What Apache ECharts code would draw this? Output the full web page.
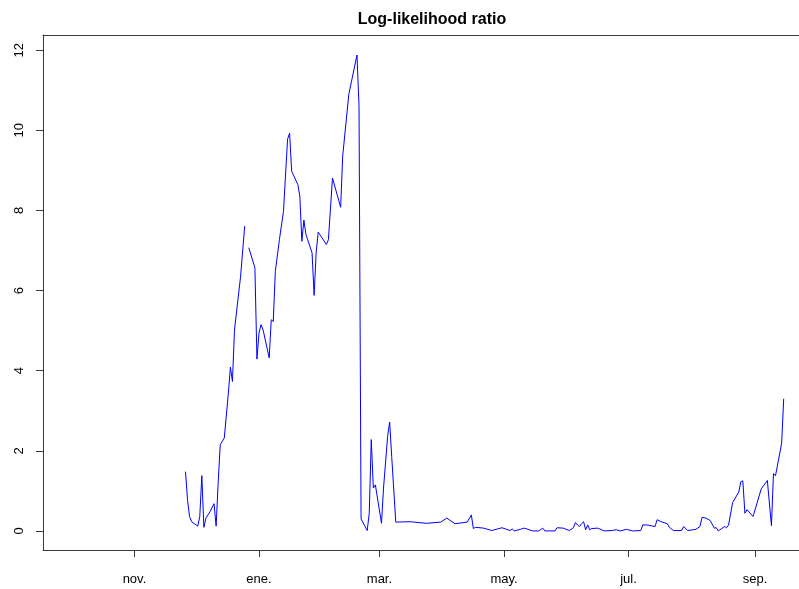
<!DOCTYPE html>
<html>
<head>
<meta charset="utf-8">
<title>Log-likelihood ratio</title>
<script src="https://cdn.jsdelivr.net/npm/echarts@6/dist/echarts.min.js"></script>
<style>
  html, body { margin: 0; padding: 0; background: #ffffff; }
  #chart { width: 799px; height: 589px; }
</style>
</head>
<body>
<div id="chart"></div>
<script>
// Daily log-likelihood ratio; null marks a missing day (break in the line)
const dates = [
  '2014-11-26','2014-11-27','2014-11-28','2014-11-29','2014-12-02','2014-12-03','2014-12-04','2014-12-05',
  '2014-12-06','2014-12-08','2014-12-10','2014-12-11','2014-12-12','2014-12-13','2014-12-15','2014-12-17',
  '2014-12-18','2014-12-19','2014-12-20','2014-12-23','2014-12-25','2014-12-26','2014-12-27','2014-12-30',
  '2014-12-31','2015-01-01','2015-01-02','2015-01-03','2015-01-06','2015-01-07','2015-01-08','2015-01-09',
  '2015-01-11','2015-01-13','2015-01-15','2015-01-16','2015-01-17','2015-01-20','2015-01-21','2015-01-22',
  '2015-01-23','2015-01-24','2015-01-27','2015-01-28','2015-01-29','2015-01-30','2015-02-03','2015-02-04',
  '2015-02-06','2015-02-10','2015-02-11','2015-02-14','2015-02-18','2015-02-19','2015-02-20','2015-02-23',
  '2015-02-24','2015-02-25','2015-02-26','2015-02-27','2015-03-02','2015-03-03','2015-03-05','2015-03-06',
  '2015-03-07','2015-03-09','2015-03-16','2015-03-24','2015-03-31','2015-04-03','2015-04-07','2015-04-13',
  '2015-04-15','2015-04-16','2015-04-17','2015-04-21','2015-04-25','2015-04-30','2015-05-04','2015-05-05',
  '2015-05-06','2015-05-09','2015-05-11','2015-05-15','2015-05-18','2015-05-20','2015-05-21','2015-05-26',
  '2015-05-27','2015-05-30','2015-06-02','2015-06-04','2015-06-05','2015-06-06','2015-06-07','2015-06-08',
  '2015-06-09','2015-06-10','2015-06-11','2015-06-12','2015-06-13','2015-06-16','2015-06-19','2015-06-23',
  '2015-06-25','2015-06-27','2015-06-30','2015-07-03','2015-07-07','2015-07-08','2015-07-10','2015-07-14',
  '2015-07-15','2015-07-17','2015-07-20','2015-07-21','2015-07-23','2015-07-27','2015-07-28','2015-07-30',
  '2015-08-03','2015-08-05','2015-08-06','2015-08-08','2015-08-10','2015-08-12','2015-08-13','2015-08-14',
  '2015-08-17','2015-08-18','2015-08-19','2015-08-21','2015-08-24','2015-08-25','2015-08-26','2015-08-27',
  '2015-08-28','2015-08-31','2015-09-04','2015-09-07','2015-09-09','2015-09-10','2015-09-11','2015-09-14',
  '2015-09-15'
];

const llr = [
  1.48, 0.78, 0.36, 0.23, 0.12, 0.36, 1.38, 0.09,
  0.32, 0.48, 0.68, 0.12, 1.19, 2.15, 2.32, 3.44,
  4.09, 3.73, 5.02, 6.36, 7.61, null, 7.07, 6.57,
  4.29, 4.94, 5.15, 5.02, 4.32, 5.27, 5.23, 6.48,
  7.27, 7.98, 9.78, 9.93, 8.98, 8.65, 8.36, 7.23,
  7.76, 7.40, 6.94, 5.88, 6.94, 7.46, 7.15, 7.27,
  8.81, 8.08, 9.36, 10.90, 11.88, 10.60, 0.30, 0.01,
  0.44, 2.28, 1.07, 1.15, 0.19, 1.07, 2.36, 2.72,
  1.86, 0.22, 0.23, 0.19, 0.22, 0.32, 0.18, 0.22,
  0.40, 0.06, 0.09, 0.07, 0.01, 0.08, 0.01, 0.05,
  0.00, 0.04, 0.07, 0.00, 0.00, 0.07, 0.00, 0.00,
  0.08, 0.07, 0.01, 0.08, 0.21, 0.15, 0.11, 0.18,
  0.23, 0.03, 0.15, 0.03, 0.06, 0.07, 0.00, 0.01,
  0.03, 0.00, 0.04, 0.00, 0.01, 0.15, 0.15, 0.11,
  0.28, 0.23, 0.18, 0.09, 0.01, 0.01, 0.11, 0.01,
  0.04, 0.11, 0.34, 0.32, 0.26, 0.07, 0.08, 0.00,
  0.11, 0.08, 0.15, 0.71, 0.97, 1.23, 1.25, 0.44,
  0.53, 0.36, 1.05, 1.26, 0.13, 1.43, 1.38, 2.19,
  3.30
];

// Axis tick positions and labels
const monthTicks = ['2014-11-01', '2015-01-01', '2015-03-01', '2015-05-01', '2015-07-01', '2015-09-01'];
const monthNames = ['ene.', 'feb.', 'mar.', 'abr.', 'may.', 'jun.', 'jul.', 'ago.', 'sep.', 'oct.', 'nov.', 'dic.'];
const yTicks = [0, 2, 4, 6, 8, 10, 12];

// Visible window (the plot frame runs past the right edge)
const xMin = '2014-09-17 05:00:00';
const xMax = '2015-09-22 12:00:00';
const yMin = -0.476;
const yMax = 12.38;

function toTime(s) {
  const p = s.split(/[- :]/).map(Number);
  return new Date(p[0], p[1] - 1, p[2], p[3] || 0, p[4] || 0, p[5] || 0).getTime();
}

const tickTimes = monthTicks.map(toTime);
const seriesData = dates.map((d, i) => [toTime(d), llr[i]]);

const chart = echarts.init(document.getElementById('chart'), null, { renderer: 'canvas' });
const axisColor = '#3a3a3a';
const font = '"Liberation Sans", Arial, sans-serif';

chart.setOption({
  animation: false,
  backgroundColor: '#ffffff',
  title: {
    text: 'Log-likelihood ratio',
    left: 427,
    top: 7,
    textAlign: 'center',
    textStyle: { fontFamily: font, fontWeight: 'bold', fontSize: 16, color: '#000000' }
  },
  grid: {
    left: 43,
    top: 35,
    right: 0,
    bottom: 39,
    show: false,
    containLabel: false
  },
  xAxis: [{
    type: 'value',
    position: 'bottom',
    min: toTime(xMin),
    max: toTime(xMax),
    splitLine: { show: false },
    axisLine: { show: true, onZero: false, lineStyle: { color: axisColor, width: 1 } },
    axisTick: { show: true, length: 7, inside: false, customValues: tickTimes, lineStyle: { color: axisColor } },
    axisLabel: {
      customValues: tickTimes,
      margin: 23,
      fontFamily: font,
      fontSize: 13,
      color: '#000000',
      formatter: function (v) { return monthNames[new Date(v).getMonth()]; }
    }
  }, {
    // top edge of the plot frame
    type: 'value',
    position: 'top',
    min: toTime(xMin),
    max: toTime(xMax),
    splitLine: { show: false },
    axisLine: { show: true, onZero: false, lineStyle: { color: axisColor, width: 1 } },
    axisTick: { show: false },
    axisLabel: { show: false }
  }],
  yAxis: {
    type: 'value',
    min: yMin,
    max: yMax,
    splitLine: { show: false },
    axisLine: { show: true, onZero: false, lineStyle: { color: axisColor, width: 1 } },
    axisTick: { show: true, length: 7, customValues: yTicks, lineStyle: { color: axisColor } },
    axisLabel: {
      customValues: yTicks,
      rotate: 90,
      margin: 17,
      fontFamily: font,
      fontSize: 13,
      color: '#000000'
    }
  },
  series: [{
    type: 'line',
    xAxisIndex: 0,
    data: seriesData,
    showSymbol: false,
    connectNulls: false,
    lineStyle: { color: '#0000ff', width: 1 },
    itemStyle: { color: '#0000ff' }
  }]
});
</script>
</body>
</html>
